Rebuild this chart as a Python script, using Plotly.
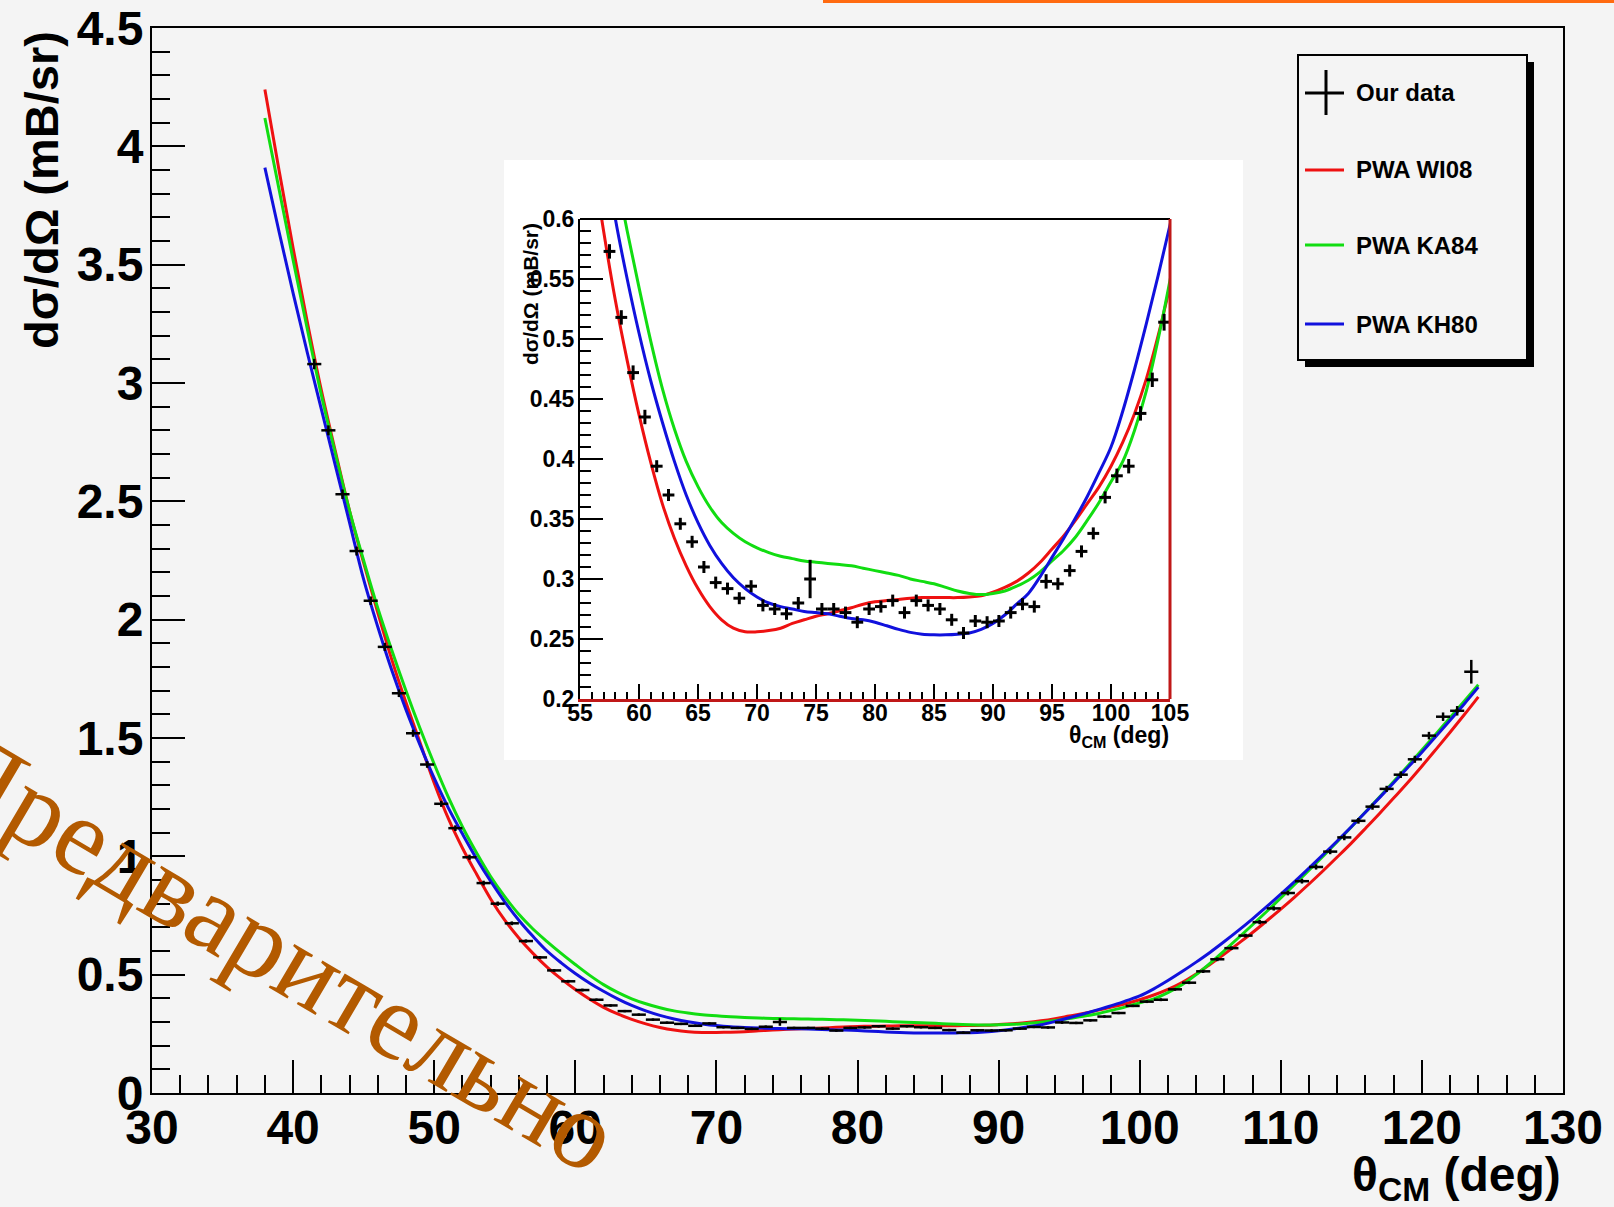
import plotly.graph_objects as go

# ---------------- data ----------------
DATA_X = [41.5, 42.5, 43.5, 44.5, 45.5, 46.5, 47.5, 48.5, 49.5, 50.5, 51.5, 52.5, 53.5, 54.5, 55.5, 56.5,
          57.5, 58.5, 59.5, 60.5, 61.5, 62.5, 63.5, 64.5, 65.5, 66.5, 67.5, 68.5, 69.5, 70.5, 71.5, 72.5,
          73.5, 74.5, 75.5, 76.5, 77.5, 78.5, 79.5, 80.5, 81.5, 82.5, 83.5, 84.5, 85.5, 86.5, 87.5, 88.5,
          89.5, 90.5, 91.5, 92.5, 93.5, 94.5, 95.5, 96.5, 97.5, 98.5, 99.5, 100.5, 101.5, 102.5, 103.5, 104.5,
          105.5, 106.5, 107.5, 108.5, 109.5, 110.5, 111.5, 112.5, 113.5, 114.5, 115.5, 116.5, 117.5, 118.5,
          119.5, 120.5, 121.5, 122.5, 123.5]
DATA_Y = [3.08, 2.80, 2.53, 2.29, 2.08, 1.885, 1.689, 1.52, 1.388, 1.222, 1.119, 0.996, 0.887, 0.80, 0.717, 0.642,
          0.573, 0.518, 0.472, 0.435, 0.394, 0.370, 0.346, 0.331, 0.310, 0.297, 0.292, 0.284, 0.294, 0.278, 0.275, 0.271,
          0.280, 0.300, 0.275, 0.275, 0.272, 0.264, 0.275, 0.277, 0.282, 0.272, 0.282, 0.278, 0.275, 0.266, 0.255, 0.265,
          0.264, 0.265, 0.272, 0.279, 0.277, 0.298, 0.296, 0.307, 0.323, 0.338, 0.368, 0.386, 0.394, 0.438, 0.466, 0.514,
          0.565, 0.612, 0.665, 0.722, 0.780, 0.845, 0.895, 0.955, 1.020, 1.080, 1.150, 1.210, 1.285, 1.345,
          1.410, 1.510, 1.590, 1.615, 1.780]
DATA_EY = [0.022, 0.021, 0.020, 0.019, 0.018, 0.017, 0.016, 0.015, 0.014, 0.013, 0.012, 0.011, 0.010, 0.009, 0.008, 0.007,
           0.006, 0.006, 0.006, 0.006, 0.005, 0.005, 0.005, 0.005, 0.005, 0.005, 0.005, 0.005, 0.005, 0.005, 0.005, 0.005,
           0.005, 0.016, 0.005, 0.005, 0.005, 0.005, 0.005, 0.005, 0.005, 0.005, 0.005, 0.005, 0.005, 0.005, 0.005, 0.005,
           0.005, 0.005, 0.005, 0.005, 0.005, 0.006, 0.005, 0.005, 0.005, 0.005, 0.005, 0.006, 0.006, 0.006, 0.006, 0.007,
           0.008, 0.008, 0.008, 0.009, 0.009, 0.010, 0.010, 0.011, 0.011, 0.012, 0.012, 0.013, 0.013, 0.014,
           0.015, 0.016, 0.018, 0.020, 0.050]
DATA_EX = 0.5

TH_X = [38, 39, 40, 41, 42, 43, 44, 45, 46, 47, 48, 49, 50, 51, 52, 53, 54, 55, 56,
        57, 58, 59, 60, 61, 62, 63, 64, 65, 66, 67, 68, 69, 70, 71, 72, 73, 74, 75, 76, 77, 78, 79, 80,
        81, 82, 83, 84, 85, 86, 87, 88, 89, 90, 91, 92, 93, 94, 95, 96, 97, 98, 99, 100, 101, 102, 103, 104, 105,
        106, 107, 108, 109, 110, 111, 112, 113, 114, 115, 116, 117, 118, 119, 120, 121, 122, 123, 124]
WI08 = [4.24, 3.90, 3.57, 3.26, 2.97, 2.71, 2.46, 2.24, 2.03, 1.83, 1.65, 1.48, 1.31, 1.16, 1.035, 0.925, 0.82, 0.73, 0.655,
        0.590, 0.532, 0.482, 0.437, 0.397, 0.362, 0.334, 0.311, 0.292, 0.277, 0.266, 0.259, 0.256, 0.256, 0.257,
        0.259, 0.263, 0.266, 0.269, 0.271, 0.2735, 0.276, 0.279, 0.281,
        0.282, 0.283, 0.284, 0.2845, 0.2845, 0.2845, 0.2845, 0.285, 0.286, 0.289, 0.293, 0.298, 0.305, 0.314,
        0.325, 0.336, 0.349, 0.363, 0.377, 0.394, 0.414, 0.438, 0.467, 0.503, 0.544,
        0.587, 0.632, 0.678, 0.727, 0.777, 0.829, 0.883, 0.939, 0.997, 1.056, 1.118, 1.181, 1.246, 1.312, 1.381,
        1.452, 1.524, 1.598, 1.674]
KA84 = [4.12, 3.82, 3.52, 3.23, 2.95, 2.70, 2.46, 2.25, 2.05, 1.87, 1.70, 1.54, 1.39, 1.25, 1.125, 1.015, 0.915, 0.830, 0.755,
        0.693, 0.640, 0.590, 0.543, 0.498, 0.458, 0.425, 0.398, 0.377, 0.360, 0.347, 0.338, 0.331, 0.326, 0.322,
        0.319, 0.317, 0.315, 0.314, 0.313, 0.312, 0.311, 0.309, 0.307,
        0.305, 0.303, 0.300, 0.298, 0.296, 0.293, 0.290, 0.288, 0.287, 0.288, 0.290, 0.294, 0.299, 0.306,
        0.315, 0.324, 0.335, 0.349, 0.364, 0.381, 0.398, 0.424, 0.457, 0.500, 0.549,
        0.602, 0.656, 0.711, 0.767, 0.824, 0.882, 0.941, 1.001, 1.062, 1.124, 1.187, 1.251, 1.316, 1.382, 1.449,
        1.517, 1.586, 1.655, 1.725]
KH80 = [3.91, 3.64, 3.38, 3.13, 2.89, 2.65, 2.41, 2.17, 1.97, 1.785, 1.62, 1.47, 1.33, 1.205, 1.095, 0.99, 0.895, 0.808, 0.73,
        0.662, 0.600, 0.550, 0.505, 0.465, 0.430, 0.398, 0.370, 0.347, 0.328, 0.313, 0.301, 0.292, 0.285, 0.280,
        0.277, 0.275, 0.273, 0.272, 0.271, 0.269, 0.267, 0.266, 0.264,
        0.261, 0.258, 0.2555, 0.254, 0.2535, 0.2535, 0.254, 0.255, 0.258, 0.263, 0.270, 0.279, 0.288, 0.302,
        0.318, 0.334, 0.351, 0.369, 0.389, 0.410, 0.440, 0.475, 0.513, 0.553, 0.595,
        0.640, 0.687, 0.736, 0.787, 0.840, 0.894, 0.950, 1.007, 1.065, 1.125, 1.186, 1.248, 1.311, 1.375, 1.440,
        1.507, 1.575, 1.644, 1.715]

SERIES = [("PWA WI08", WI08, "#ee1111"), ("PWA KA84", KA84, "#11dd11"), ("PWA KH80", KH80, "#1111dd")]
LEGEND_LABELS = ["Our data", "PWA WI08", "PWA KA84", "PWA KH80"]

MAIN_YTICKS = [0, 0.5, 1, 1.5, 2, 2.5, 3, 3.5, 4, 4.5]
MAIN_YTEXT = ["0", "0.5", "1", "1.5", "2", "2.5", "3", "3.5", "4", "4.5"]
INS_YTICKS = [0.2, 0.25, 0.3, 0.35, 0.4, 0.45, 0.5, 0.55, 0.6]
INS_YTEXT = ["0.2", "0.25", "0.3", "0.35", "0.4", "0.45", "0.5", "0.55", "0.6"]

# ---------------- layout helpers ----------------
W, H = 1614, 1207
PL, PR, PT, PB = 152, 1563, 28, 1093


def px(x):
    return (x - PL) / (PR - PL)


def py(y):
    return (PB - y) / (PB - PT)


BG = "#f4f4f4"
FONT = "Liberation Sans"

fig = go.Figure()

for name, vals, col in SERIES:
    fig.add_trace(go.Scatter(x=TH_X, y=vals, mode="lines", line=dict(color=col, width=3, shape="spline"),
                             name=name, showlegend=False, xaxis="x", yaxis="y"))
for name, vals, col in SERIES:
    fig.add_trace(go.Scatter(x=TH_X, y=vals, mode="lines", line=dict(color=col, width=3, shape="spline"),
                             name=name, showlegend=False, xaxis="x2", yaxis="y2"))

fig.add_trace(go.Scatter(x=DATA_X, y=DATA_Y, mode="markers", marker=dict(size=2, color="black"),
                         error_x=dict(type="constant", value=DATA_EX, width=0, thickness=2.5, color="black"),
                         error_y=dict(type="data", array=DATA_EY, width=0, thickness=2.5, color="black"),
                         name="Our data", showlegend=False, xaxis="x", yaxis="y"))
fig.add_trace(go.Scatter(x=DATA_X, y=DATA_Y, mode="markers", marker=dict(size=2, color="black"),
                         error_x=dict(type="constant", value=DATA_EX, width=0, thickness=3, color="black"),
                         error_y=dict(type="data", array=DATA_EY, width=0, thickness=3, color="black"),
                         name="Our data", showlegend=False, xaxis="x2", yaxis="y2"))

tickfont_main = dict(family=FONT, size=48, color="black", weight="bold")
tickfont_ins = dict(family=FONT, size=23, color="black", weight="bold")

shapes = []
shapes.append(dict(type="rect", xref="paper", yref="paper", x0=px(504), x1=px(1243), y0=py(760), y1=py(160),
                   fillcolor="white", line=dict(width=0), layer="below"))
shapes.append(dict(type="line", xref="x2 domain", yref="y2 domain", x0=0, x1=1, y0=1, y1=1,
                   line=dict(color="black", width=2)))
shapes.append(dict(type="line", xref="x2 domain", yref="y2 domain", x0=1, x1=1, y0=0, y1=1,
                   line=dict(color="#c01818", width=3)))
shapes.append(dict(type="line", xref="paper", yref="paper", x0=px(823), x1=px(1614), y0=py(1.5), y1=py(1.5),
                   line=dict(color="#ff6a10", width=3)))
shapes.append(dict(type="rect", xref="paper", yref="paper", x0=px(1305), x1=px(1534), y0=py(367), y1=py(62),
                   fillcolor="black", line=dict(width=0)))
shapes.append(dict(type="rect", xref="paper", yref="paper", x0=px(1298), x1=px(1527), y0=py(360), y1=py(55),
                   fillcolor=BG, line=dict(color="black", width=2)))
shapes.append(dict(type="line", xref="paper", yref="paper", x0=px(1326), x1=px(1326), y0=py(115), y1=py(70),
                   line=dict(color="black", width=3)))
shapes.append(dict(type="line", xref="paper", yref="paper", x0=px(1305), x1=px(1344), y0=py(93), y1=py(93),
                   line=dict(color="black", width=3)))
LEG_Y = [93, 170, 245, 324]
for (name, vals, col), ly in zip(SERIES, LEG_Y[1:]):
    shapes.append(dict(type="line", xref="paper", yref="paper", x0=px(1305), x1=px(1344), y0=py(ly), y1=py(ly),
                       line=dict(color=col, width=3)))

annotations = []
for lab, ly in zip(LEGEND_LABELS, LEG_Y):
    annotations.append(dict(text=lab, xref="paper", yref="paper", x=px(1354), y=py(ly), xanchor="left",
                            yanchor="middle", showarrow=False,
                            font=dict(family=FONT, size=24, color="black", weight="bold")))
annotations.append(dict(text="dσ/dΩ (mB/sr)", xref="paper", yref="paper", x=px(41), y=py(190), textangle=-90,
                        xanchor="center", yanchor="middle", showarrow=False,
                        font=dict(family=FONT, size=47, color="black", weight="bold")))
annotations.append(dict(text="θ<sub>CM</sub> (deg)", xref="paper", yref="paper", x=px(1563), y=py(1178),
                        xanchor="right", yanchor="middle", showarrow=False,
                        font=dict(family=FONT, size=48, color="black", weight="bold")))
annotations.append(dict(text="dσ/dΩ (mB/sr)", xref="paper", yref="paper", x=px(531), y=py(294), textangle=-90,
                        xanchor="center", yanchor="middle", showarrow=False,
                        font=dict(family=FONT, size=21, color="black", weight="bold")))
annotations.append(dict(text="θ<sub>CM</sub> (deg)", xref="paper", yref="paper", x=px(1171), y=py(736),
                        xanchor="right", yanchor="middle", showarrow=False,
                        font=dict(family=FONT, size=23, color="black", weight="bold")))
annotations.append(dict(text="Предварительно", xref="paper", yref="paper", x=px(278), y=py(950), textangle=30.5,
                        xanchor="center", yanchor="middle", showarrow=False,
                        font=dict(family="Liberation Serif", size=110, color="#b35a00")))

fig.update_layout(
    width=W, height=H, autosize=False,
    margin=dict(l=PL, r=W - PR, t=PT, b=H - PB, pad=0),
    paper_bgcolor=BG, plot_bgcolor="rgba(0,0,0,0)",
    showlegend=False,
    shapes=shapes, annotations=annotations,
    xaxis=dict(domain=[0, 1], range=[30, 130], tick0=30, dtick=10, ticks="inside", ticklen=33, tickwidth=2,
               tickcolor="black", minor=dict(dtick=2, ticks="inside", ticklen=18, tickwidth=2, tickcolor="black"),
               showline=True, linecolor="black", linewidth=2, mirror=True, showgrid=False, zeroline=False,
               tickfont=tickfont_main, ticklabelstandoff=-9, automargin=False),
    yaxis=dict(domain=[0, 1], range=[0, 4.5], tickvals=MAIN_YTICKS, ticktext=MAIN_YTEXT, ticks="inside",
               ticklen=33, tickwidth=2, tickcolor="black",
               minor=dict(dtick=0.1, ticks="inside", ticklen=18, tickwidth=2, tickcolor="black"),
               showline=True, linecolor="black", linewidth=2, mirror=True, showgrid=False, zeroline=False,
               tickfont=tickfont_main, ticklabelstandoff=-3, automargin=False),
    xaxis2=dict(domain=[px(580), px(1170)], anchor="y2", range=[55, 105], tick0=55, dtick=5, ticks="inside",
                ticklen=15, tickwidth=2, tickcolor="black",
                minor=dict(dtick=1, ticks="inside", ticklen=7, tickwidth=2, tickcolor="black"),
                showline=True, linecolor="#c01818", linewidth=3, showgrid=False, zeroline=False,
                tickfont=tickfont_ins, ticklabelstandoff=-9, automargin=False),
    yaxis2=dict(domain=[py(699), py(219)], anchor="x2", range=[0.2, 0.6], tickvals=INS_YTICKS, ticktext=INS_YTEXT,
                ticks="inside", ticklen=23, tickwidth=2, tickcolor="black",
                minor=dict(dtick=0.01, ticks="inside", ticklen=11, tickwidth=2, tickcolor="black"),
                showline=True, linecolor="black", linewidth=2, showgrid=False, zeroline=False,
                tickfont=tickfont_ins, ticklabelstandoff=-1, automargin=False),
)

fig.write_html("out.html", config={"displayModeBar": False},
               post_script="document.body.style.margin='0';document.body.style.overflow='hidden';")
